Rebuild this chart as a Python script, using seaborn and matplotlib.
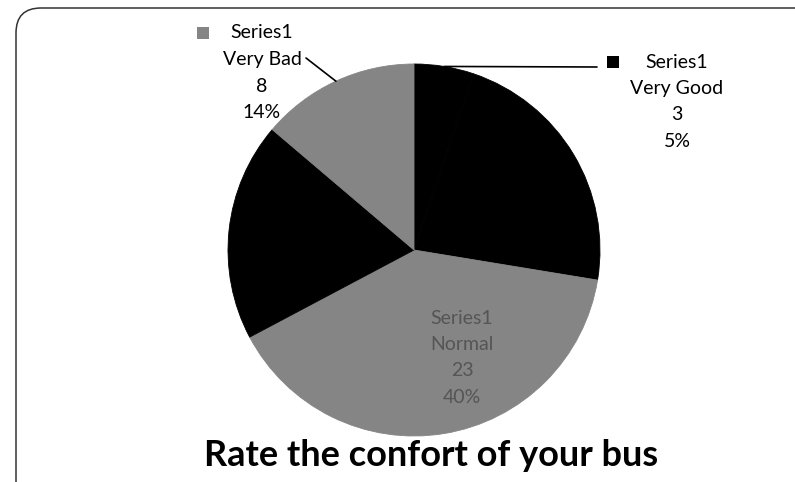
import numpy as np
import matplotlib
matplotlib.use("Agg")
import matplotlib.pyplot as plt
import seaborn as sns
from matplotlib.patches import FancyBboxPatch, Rectangle

# data
categories = ["Very Good", "Good", "Normal", "Bad", "Very Bad"]
counts = [3, 13, 23, 11, 8]
series_name = "Series1"
slice_colors = ["#000000", "#000000", "#858585", "#000000", "#858585"]
chart_title = "Rate the confort of your bus"

sns.set_theme(style="white")
plt.rcParams['font.family'] = ['Lato', 'DejaVu Sans']

W, H = 795, 482
fig = plt.figure(figsize=(W / 100, H / 100), dpi=100)
fig.patch.set_facecolor('white')

# pie placed in pixel space: centre and radius
cx, cy, r = 414, 250, 186
ax = fig.add_axes([(cx - r) / W, 1 - (cy + r) / H, 2 * r / W, 2 * r / H])
wedges, _ = ax.pie(counts, colors=slice_colors, startangle=90, counterclock=False,
                   radius=1, wedgeprops=dict(linewidth=0.6))
for w, c in zip(wedges, slice_colors):
    w.set_edgecolor(c)
ax.set_xlim(-1, 1)
ax.set_ylim(-1, 1)
ax.set_aspect('equal')
ax.axis('off')

total = sum(counts)
pcts = [round(100 * c / total) for c in counts]

# label blocks: index -> (text centre x, first line y, marker x), image pixels
label_pos = {0: (677, 62, 613), 4: (262, 33, 203), 2: (462, 318, 420)}
leader_end = {0: (597, 67), 4: (306, 58)}
line_gap = 26.5

for i, (tx, ty, mx) in label_pos.items():
    txt_color = '#555555' if i == 2 else 'black'
    lines = [series_name, categories[i], str(counts[i]), f"{pcts[i]}%"]
    for k, s in enumerate(lines):
        fig.text(tx / W, 1 - (ty + k * line_gap) / H, s, ha='center', va='center',
                 fontsize=14, color=txt_color)
    fig.add_artist(Rectangle(((mx - 6) / W, 1 - (ty + 6) / H), 12 / W, 12 / H,
                             transform=fig.transFigure, color=slice_colors[i], lw=0))

# leader lines from the middle of the wedge edge to the label
for i, (ex, ey) in leader_end.items():
    w = wedges[i]
    a = np.deg2rad((w.theta1 + w.theta2) / 2)
    ax.annotate('', xy=(np.cos(a), np.sin(a)), xycoords='data',
                xytext=(ex, H - ey), textcoords='figure pixels',
                arrowprops=dict(arrowstyle='-', color='black', lw=1.2,
                                shrinkA=0, shrinkB=0), annotation_clip=False)

fig.text(431 / W, 1 - 455 / H, chart_title, ha='center', va='center',
         fontsize=26, fontweight='bold', color='black')

# rounded chart frame running off the right and bottom edges
frame = FancyBboxPatch((0.16, -0.3), 8.5, 4.74 + 0.3,
                       boxstyle="round,pad=0,rounding_size=0.25",
                       transform=fig.dpi_scale_trans, fill=False,
                       edgecolor='#333333', lw=1.1)
fig.add_artist(frame)

fig.savefig("out.png", dpi=100, facecolor='white')
